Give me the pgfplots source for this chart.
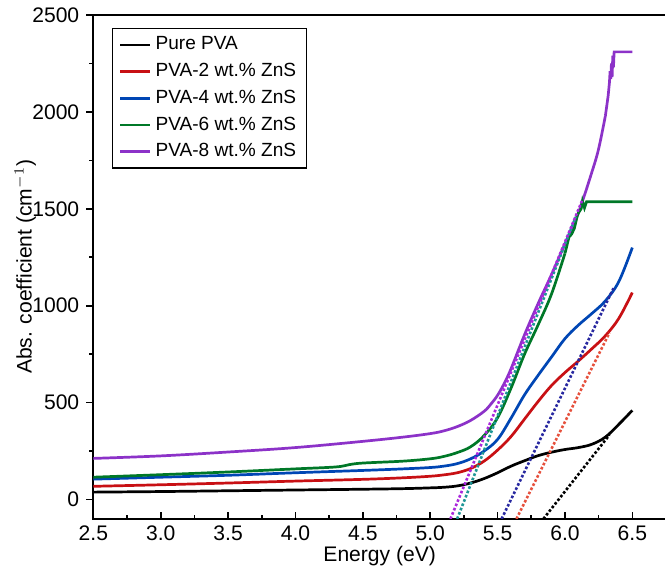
\documentclass[border=0pt]{standalone}
\usepackage{fontspec}
\setmainfont{Liberation Sans}
\usepackage{pgfplots}
\pgfplotsset{compat=1.18}
\definecolor{cRed}{RGB}{200,16,20}
\definecolor{cBlue}{RGB}{0,70,180}
\definecolor{cGreen}{RGB}{0,120,40}
\definecolor{cPurple}{RGB}{140,50,200}
\definecolor{dRed}{RGB}{230,80,60}
\definecolor{dBlue}{RGB}{40,40,160}
\definecolor{dTeal}{RGB}{30,150,150}
\definecolor{dPurple}{RGB}{170,40,220}
\begin{document}
\begin{tikzpicture}
\begin{axis}[
  scale only axis, width=285.3pt, height=251pt,
  xmin=2.5, xmax=6.75, ymin=-100, ymax=2500,
  xtick={2.5,3,3.5,4,4.5,5,5.5,6,6.5},
  ytick={0,500,1000,1500,2000,2500},
  minor x tick num=1, minor y tick num=1,
  xtick pos=bottom, ytick pos=left,
  xtick align=inside, ytick align=outside,
  major tick length=3.5pt, minor tick length=2pt,
  axis line style={line width=0.9pt},
  every tick/.style={black, line width=0.8pt},
  /pgf/number format/assume math mode=true,
  xticklabel style={/pgf/number format/fixed, /pgf/number format/fixed zerofill, /pgf/number format/precision=1},
  yticklabel style={/pgf/number format/set thousands separator={}},
  tick label style={font=\fontsize{10.5}{12}\selectfont},
  xlabel={Energy (eV)}, ylabel={Abs. coefficient (cm$^{-1}$)},
  label style={font=\fontsize{10.5}{12}\selectfont},
  xlabel style={at={(axis description cs:0.5,-0.074)}, anchor=center},
  ylabel style={at={(axis description cs:-0.119,0.5)}, anchor=center},
  legend style={at={(0.033,0.974)}, anchor=north west, draw=black, line width=0.6pt,
    font=\fontsize{9.5}{11}\selectfont, inner xsep=3pt, inner ysep=2pt, row sep=1.2pt},
  legend cell align=left,
  legend image code/.code={\draw[#1, line width=1.3pt] (0pt,0pt) -- (15pt,0pt);},
]
% Pure PVA
\addplot[black, line width=1.35pt, smooth, tension=0.6] coordinates {
(2.5,38) (3.0,41) (3.5,45) (4.0,49) (4.5,53) (4.8,56) (5.0,60) (5.1,63) (5.2,70) (5.3,85) (5.4,108) (5.5,138) (5.6,172) (5.7,200) (5.8,226) (5.9,244) (6.0,258) (6.1,268) (6.2,285) (6.3,322) (6.4,388) (6.5,460)};
\addlegendentry{Pure PVA}
% 2 wt%
\addplot[cRed, line width=1.35pt, smooth, tension=0.6] coordinates {
(2.5,68) (3.0,76) (3.5,85) (4.0,95) (4.5,104) (4.8,112) (5.0,120) (5.1,127) (5.2,138) (5.3,160) (5.4,198) (5.5,255) (5.6,325) (5.7,415) (5.8,505) (5.9,588) (6.0,655) (6.1,715) (6.2,778) (6.3,845) (6.4,935) (6.5,1068)};
\addlegendentry{PVA-2 wt.\% ZnS}
% 4 wt%
\addplot[cBlue, line width=1.35pt, smooth, tension=0.6] coordinates {
(2.5,105) (3.0,115) (3.5,125) (4.0,138) (4.5,150) (4.8,158) (5.0,165) (5.1,172) (5.2,185) (5.3,210) (5.4,250) (5.5,310) (5.6,420) (5.7,540) (5.8,640) (5.9,735) (6.0,830) (6.1,900) (6.2,960) (6.3,1025) (6.4,1125) (6.5,1300)};
\addlegendentry{PVA-4 wt.\% ZnS}
% 6 wt%
\addplot[cGreen, line width=1.35pt, smooth, tension=0.6] coordinates {
(2.5,115) (3.0,128) (3.5,142) (4.0,158) (4.3,168) (4.4,180) (4.5,188) (4.8,198) (5.0,210) (5.1,222) (5.2,242) (5.3,272) (5.4,330) (5.5,422) (5.6,575) (5.7,750) (5.8,900) (5.9,1060) (6.0,1270)};
\addlegendentry{PVA-6 wt.\% ZnS}
% 8 wt%
\addplot[cPurple, line width=1.35pt, smooth, tension=0.6] coordinates {
(2.5,212) (3.0,225) (3.5,245) (4.0,268) (4.5,300) (4.8,322) (5.0,340) (5.1,354) (5.2,376) (5.3,408) (5.4,455) (5.45,492) (5.5,538) (5.55,600) (5.6,675) (5.7,850) (5.8,1010) (5.9,1160) (6.0,1320) (6.1,1480) (6.2,1690) (6.25,1810) (6.3,1980)};
\addlegendentry{PVA-8 wt.\% ZnS}
% jagged tops
\addplot[cGreen, line width=1.35pt, forget plot] coordinates {
(6.0,1270) (6.03,1354) (6.05,1370) (6.07,1400) (6.09,1460) (6.1,1479) (6.12,1500) (6.13,1540) (6.145,1505) (6.16,1536) (6.5,1536)};
\addplot[cPurple, line width=1.35pt, forget plot] coordinates {
(6.3,1980) (6.32,2080) (6.33,2150) (6.335,2210) (6.34,2170) (6.345,2250) (6.35,2180) (6.355,2290) (6.36,2230) (6.365,2310) (6.5,2310)};
% tangent lines
\addplot[black, densely dotted, line width=1.3pt, forget plot] coordinates {(5.84,-100) (6.33,333)};
\addplot[dRed, densely dotted, line width=1.3pt, forget plot] coordinates {(5.64,-100) (6.33,860)};
\addplot[dBlue, densely dotted, line width=1.3pt, forget plot] coordinates {(5.53,-100) (6.36,1090)};
\addplot[dTeal, densely dotted, line width=1.3pt, forget plot] coordinates {(5.20,-100) (6.08,1458)};
\addplot[dPurple, densely dotted, line width=1.3pt, forget plot] coordinates {(5.15,-100) (6.13,1547)};
\end{axis}
\pgfresetboundingbox
\path[use as bounding box] ([xshift=-46.5pt,yshift=-27.5pt]current axis.south west) rectangle ([xshift=-0.5pt,yshift=7.5pt]current axis.north east);
\end{tikzpicture}
\end{document}
